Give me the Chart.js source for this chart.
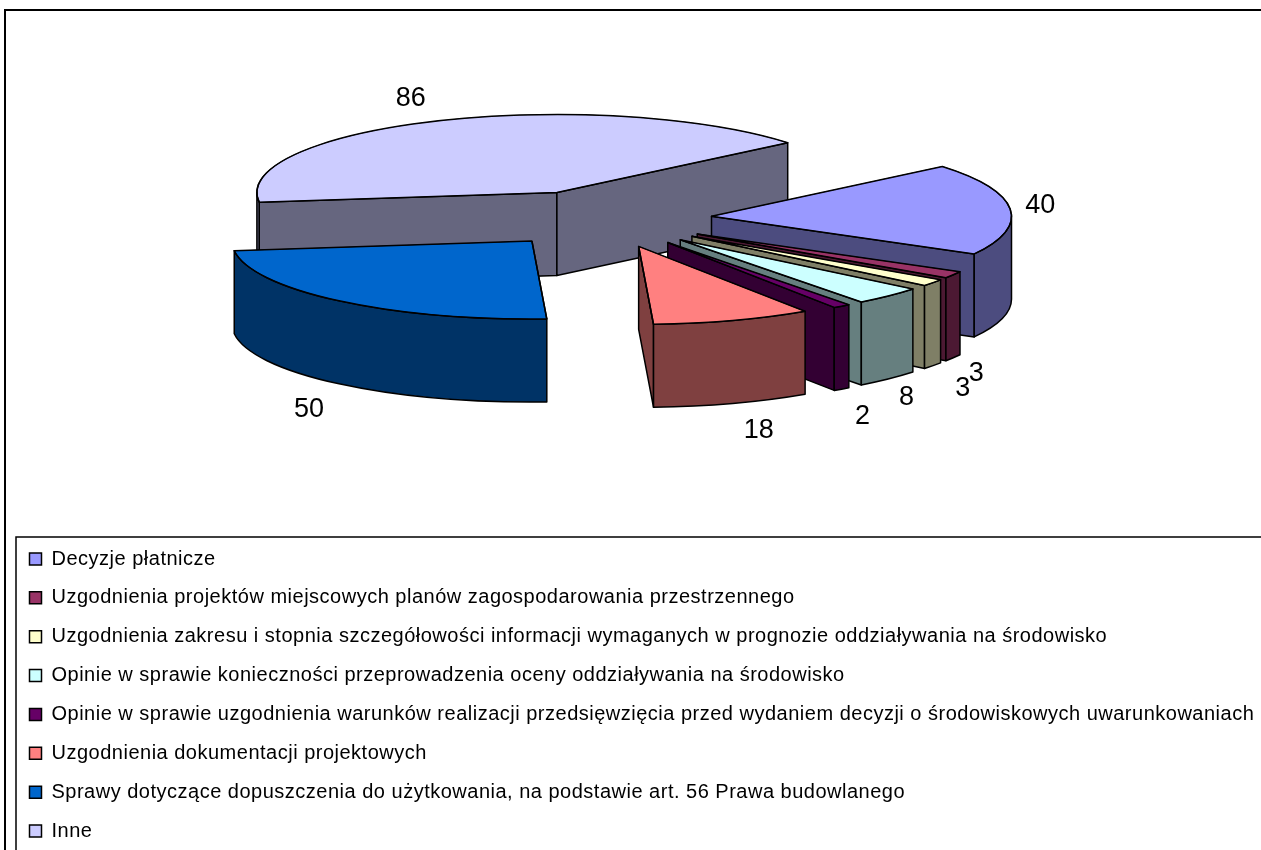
<!DOCTYPE html>
<html>
<head>
<meta charset="utf-8">
<title>Wykres</title>
<style>
  html, body { margin: 0; padding: 0; background: #fff; overflow: hidden; }
  canvas { display: block; }
</style>
<script src="https://cdn.jsdelivr.net/npm/chart.js"></script>
</head>
<body>
<canvas id="myChart" width="1261" height="850"></canvas>
<script>
var categories = [
  'Decyzje płatnicze',
  'Uzgodnienia projektów miejscowych planów zagospodarowania przestrzennego',
  'Uzgodnienia zakresu i stopnia szczegółowości informacji wymaganych w prognozie oddziaływania na środowisko',
  'Opinie w sprawie konieczności przeprowadzenia oceny oddziaływania na środowisko',
  'Opinie w sprawie uzgodnienia warunków realizacji przedsięwzięcia przed wydaniem decyzji o środowiskowych uwarunkowaniach',
  'Uzgodnienia dokumentacji projektowych',
  'Sprawy dotyczące dopuszczenia do użytkowania, na podstawie art. 56 Prawa budowlanego',
  'Inne'
];
var values = [40, 3, 3, 8, 2, 18, 50, 86];
var topColors = ['#9999FF', '#993366', '#FFFFCC', '#CCFFFF', '#660066', '#FF8080', '#0066CC', '#CCCCFF'];
var wallColors = ['#4C4C7F', '#4C1933', '#7F7F66', '#667F7F', '#330033', '#7F4040', '#003366', '#66667F'];

// how far each value label sits from the middle of its slice's rim
var labelNudge = [[30, -3], [23, 99], [30, 106], [18, 102], [21, 110], [26, 110], [-30, 109], [-27, -22]];

var pie3d = {
  id: 'pie3d',
  beforeDraw: function (chart, args, o) {
    var ctx = chart.ctx;
    ctx.save();
    ctx.strokeStyle = '#000';
    ctx.lineWidth = 2;
    ctx.strokeRect(5, 10, 1400, 1000);
    ctx.lineWidth = 1.5;
    ctx.strokeRect(16, 537, 1400, 1000);
    ctx.restore();
    // the reference legend text runs a little wide
    ctx.letterSpacing = '0.5px';
  },
  afterLayout: function (chart) {
    // the legend keeps its own drawing, only its box is moved to the frame
    var lg = chart.legend;
    var pad = lg.options.labels.padding;
    lg.left = 29.5 - pad;
    lg.top = 549 - pad;
    lg.right = 1261;
    lg.bottom = 900;
  },
  beforeDatasetsDraw: function (chart, args, o) {
    var ctx = chart.ctx;
    ctx.letterSpacing = '0px';
    var arcs = chart.getDatasetMeta(0).data.map(function (arc, i) {
      var mid = (arc.startAngle + arc.endAngle) / 2;
      return {
        arc: arc, i: i, mid: mid,
        tx: o.cx + Math.cos(mid) * o.explode + o.skew * Math.max(0, Math.sin(mid)),
        ty: o.cy + Math.sin(mid) * o.explode * o.squash
      };
    });
    // back to front
    var order = arcs.slice().sort(function (a, b) { return a.ty - b.ty; });

    order.forEach(function (s) {
      var a = s.arc.outerRadius;
      var b = a * o.squash;
      var s0 = s.arc.startAngle;
      var e0 = s.arc.endAngle;
      ctx.save();
      ctx.translate(s.tx, s.ty);
      ctx.lineWidth = 1.5;
      ctx.lineJoin = 'round';
      ctx.strokeStyle = '#000';
      ctx.fillStyle = wallColors[s.i];

      function face(t) {
        var x = Math.cos(t) * a;
        var y = Math.sin(t) * b;
        ctx.beginPath();
        ctx.moveTo(0, 0);
        ctx.lineTo(x, y);
        ctx.lineTo(x, y + o.depth);
        ctx.lineTo(0, o.depth);
        ctx.closePath();
        ctx.fill();
        ctx.stroke();
      }
      if (Math.cos(s0) < 0) face(s0);
      if (Math.cos(e0) > 0) face(e0);

      // front part of the rim
      var lo = Math.max(s0, 0);
      var hi = Math.min(e0, Math.PI);
      if (hi > lo) {
        ctx.beginPath();
        ctx.ellipse(0, 0, a, b, 0, lo, hi);
        ctx.lineTo(Math.cos(hi) * a, Math.sin(hi) * b + o.depth);
        ctx.ellipse(0, o.depth, a, b, 0, hi, lo, true);
        ctx.closePath();
        ctx.fill();
        ctx.stroke();
      }

      // top face: the library's own arc, flattened
      ctx.save();
      ctx.scale(1, o.squash);
      ctx.translate(-s.arc.x, -s.arc.y);
      s.arc.draw(ctx);
      ctx.restore();

      ctx.beginPath();
      ctx.moveTo(0, 0);
      ctx.ellipse(0, 0, a, b, 0, s0, e0);
      ctx.closePath();
      ctx.stroke();
      ctx.restore();
    });

    ctx.save();
    ctx.fillStyle = '#000';
    ctx.font = '27px "Liberation Sans"';
    ctx.textAlign = 'center';
    ctx.textBaseline = 'middle';
    arcs.forEach(function (s) {
      var r = s.arc.outerRadius;
      var x = s.tx + Math.cos(s.mid) * r + labelNudge[s.i][0];
      var y = s.ty + Math.sin(s.mid) * r * o.squash + labelNudge[s.i][1];
      ctx.fillText(String(values[s.i]), x, y);
    });
    ctx.restore();
    return false;
  }
};

var ctx = document.getElementById('myChart').getContext('2d');
var chart = new Chart(ctx, {
  type: 'pie',
  data: {
    labels: categories,
    datasets: [{
      data: values,
      backgroundColor: topColors,
      borderColor: '#000',
      borderWidth: 1.5
    }]
  },
  plugins: [pie3d],
  options: {
    responsive: false,
    animation: false,
    events: [],
    rotation: 50.3,
    radius: 300,
    plugins: {
      tooltip: { enabled: false },
      legend: {
        position: 'left',
        align: 'start',
        labels: {
          boxWidth: 12,
          boxHeight: 12,
          padding: 18.86,
          color: '#000',
          font: { family: '"Liberation Sans"', size: 20 }
        }
      },
      pie3d: { cx: 601, cy: 219, explode: 111, skew: 3, squash: 0.26, depth: 83 }
    }
  }
});
</script>
</body>
</html>
